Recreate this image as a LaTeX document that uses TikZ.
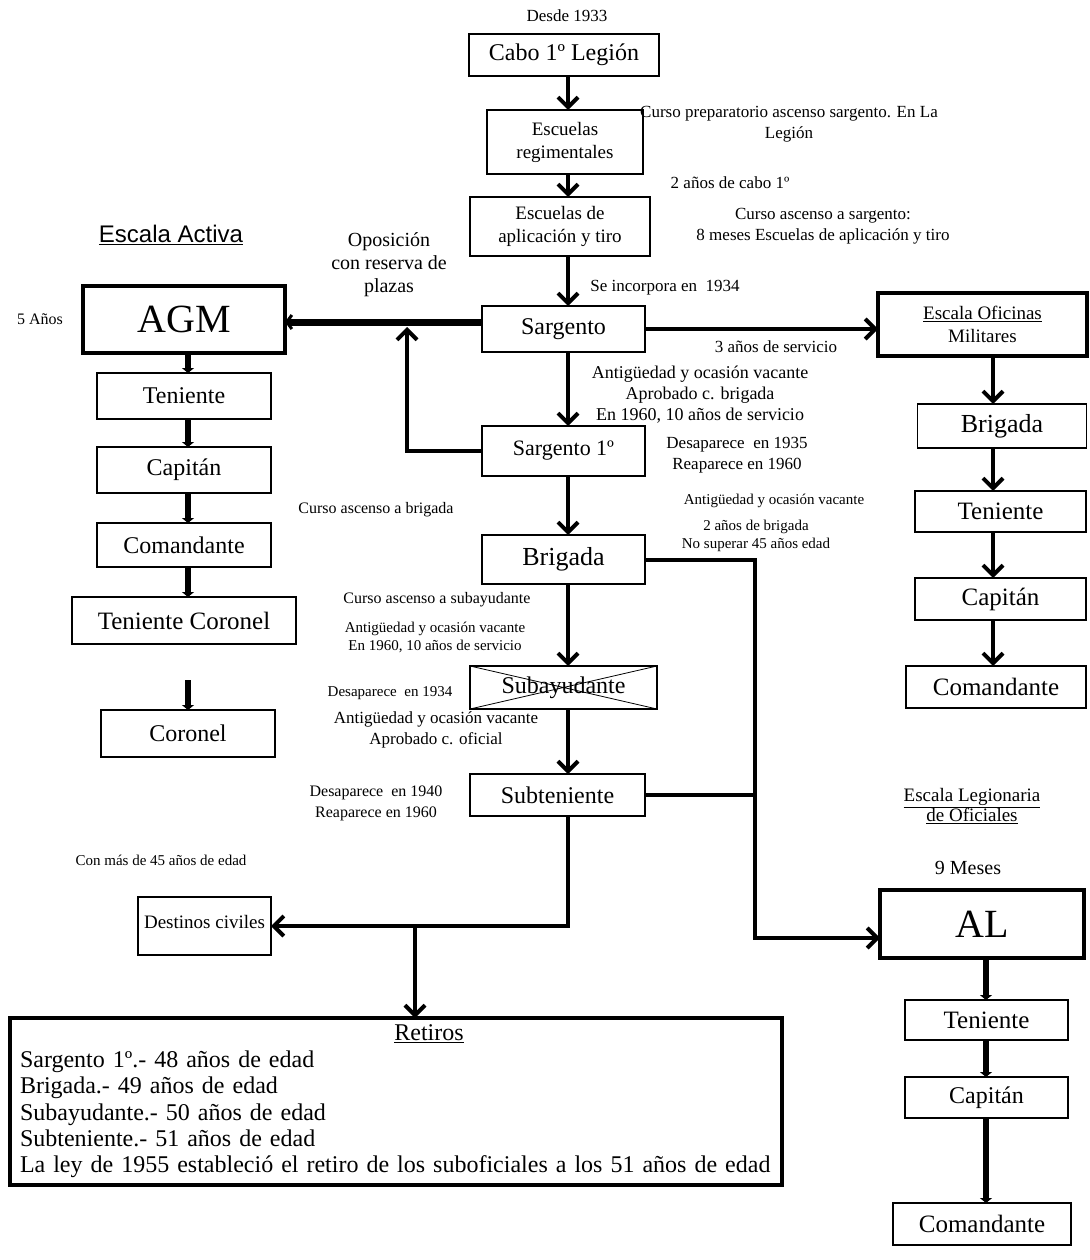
\documentclass[tikz,border=0pt]{standalone}
\usepackage{fontspec}
\setmainfont{Liberation Serif}
\newfontfamily\arialf{Liberation Sans}
\usetikzlibrary{arrows.meta}
\newcommand\fsz[2]{\fontsize{#1}{#2}\selectfont}
\begin{document}
\begin{tikzpicture}[x=1pt,y=-1pt,
  box/.style={draw, line width=1.5pt, inner sep=0pt, outer sep=0pt, align=center, font=\fsz{24}{28}},
  tbox/.style={box, line width=4pt},
  note/.style={align=center, inner sep=0pt, font=\fsz{17}{21}},
  snote/.style={align=center, inner sep=0pt, font=\fsz{15}{18}},
  conn/.style={line width=4pt, -{Straight Barb[length=10pt,width=20pt]}},
  lconn/.style={line width=6pt, -{Triangle[length=5pt,width=12pt]}},
  plain/.style={line width=4pt}]
\useasboundingbox (0,0) rectangle (1089,1260);
% axis coordinates
\coordinate (ax) at (568,0);
\coordinate (lx) at (188,0);
\coordinate (rx) at (993,0);
\coordinate (rx2) at (986,0);
\coordinate (vx) at (755,0);
% middle column
\node[note] (desde) at (567,16) {Desde 1933};
\node[box, minimum width=190pt, minimum height=42pt] (cabo) at (564,55) {Cabo 1º Legión};
\node[box, minimum width=156pt, minimum height=64pt, font=\fsz{19}{23}] (escreg) at (565,142) {Escuelas\\regimentales};
\node[box, minimum width=180pt, minimum height=59pt, font=\fsz{19}{23}] (escapl) at (560,226.5) {Escuelas de\\aplicación y tiro};
\node[box, minimum width=163pt, minimum height=46pt] (sarg) at (563.5,329) {Sargento};
\node[box, minimum width=163pt, minimum height=50pt, font=\fsz{22}{26}] (sarg1) at (563.5,451) {Sargento 1º};
\node[box, minimum width=163pt, minimum height=49pt, font=\fsz{26}{30}] (brig) at (563.5,559.5) {Brigada};
\node[box, minimum width=187pt, minimum height=43pt] (subay) at (563.5,687.5) {Subayudante};
\draw[line width=0.8pt] (subay.north west) -- (subay.south east) (subay.south west) -- (subay.north east);
\node[box, minimum width=175pt, minimum height=42pt] (subt) at (557.5,795) {Subteniente};
% middle notes
\node[note] (cprep) at (789,124) {Curso preparatorio ascenso sargento. En La\\Legión};
\node[note] (dosc) at (730,183) {2 años de cabo 1º};
\node[note] (casc) at (823,226.5) {Curso ascenso a sargento:\\8 meses Escuelas de aplicación y tiro};
\node[note] (incorp) at (665,288) {Se incorpora en\ \ 1934};
\node[note] (tres) at (776,347) {3 años de servicio};
\node[note, font=\fsz{18}{21}] (antig1) at (700,395) {Antigüedad y ocasión vacante\\Aprobado c. brigada\\En 1960, 10 años de servicio};
\node[note] (des35) at (737,455) {Desaparece\ \ en 1935\\Reaparece en 1960};
\node[snote] (antig2) at (774,501) {Antigüedad y ocasión vacante};
\node[snote] (dosb) at (756,536) {2 años de brigada\\No superar 45 años edad};
\node[note, font=\fsz{16}{20}] (cbrig) at (376,510) {Curso ascenso a brigada};
\node[note, font=\fsz{16}{20}] (csub) at (437,600) {Curso ascenso a subayudante};
\node[snote] (antig3) at (435,637) {Antigüedad y ocasión vacante\\En 1960, 10 años de servicio};
\node[snote] (des34) at (390,693) {Desaparece\ \ en 1934};
\node[note] (antig4) at (436,729.5) {Antigüedad y ocasión vacante\\Aprobado c. oficial};
\node[snote, font=\fsz{16}{21}] (des40) at (376,803.5) {Desaparece\ \ en 1940\\Reaparece en 1960};
\node[snote] (mas45) at (161,860) {Con más de 45 años de edad};
% left column
\node[inner sep=0pt, font=\arialf\fsz{24}{28}] (eact) at (171,235) {\underline{Escala Activa}};
\node[note, font=\fsz{20}{23}] (opos) at (389,264.5) {Oposición\\con reserva de\\plazas};
\node[snote, font=\fsz{16}{20}] (cinco) at (40,319) {5 Años};
\node[tbox, minimum width=202pt, minimum height=67pt, font=\fsz{40}{44}] (agm) at (184,319.5) {AGM};
\node[box, minimum width=174pt, minimum height=46pt] (ten) at (184,396) {Teniente};
\node[box, minimum width=174pt, minimum height=46pt] (cap) at (184,470) {Capitán};
\node[box, minimum width=174pt, minimum height=44pt] (com) at (184,545) {Comandante};
\node[box, minimum width=224pt, minimum height=47pt, font=\fsz{25}{29}] (tcor) at (184,620.5) {Teniente Coronel};
\node[box, minimum width=174pt, minimum height=47pt] (cor) at (188,733.5) {Coronel};
\coordinate (corin) at (188,680);
\draw[lconn] (agm.south -| lx) -- (ten.north -| lx);
\draw[lconn] (ten.south -| lx) -- (cap.north -| lx);
\draw[lconn] (cap.south -| lx) -- (com.north -| lx);
\draw[lconn] (com.south -| lx) -- (tcor.north -| lx);
\draw[lconn] (corin) -- (cor.north -| lx);
% right top column
\node[tbox, minimum width=209pt, minimum height=63pt, font=\fsz{19}{23}] (ofi) at (982.5,324.5) {\underline{Escala Oficinas}\\Militares};
\node[box, minimum width=169pt, minimum height=44pt, font=\fsz{26}{30}] (brig2) at (1002,426) {Brigada};
\node[box, minimum width=171pt, minimum height=41pt, font=\fsz{25}{29}] (ten2) at (1000.5,511.5) {Teniente};
\node[box, minimum width=171pt, minimum height=42pt, font=\fsz{25}{29}] (cap2) at (1000.5,599) {Capitán};
\node[box, minimum width=180pt, minimum height=42pt, font=\fsz{25}{29}] (com2) at (996,687) {Comandante};
\draw[conn] (ofi.south -| rx) -- (brig2.north -| rx);
\draw[conn] (brig2.south -| rx) -- (ten2.north -| rx);
\draw[conn] (ten2.south -| rx) -- (cap2.north -| rx);
\draw[conn] (cap2.south -| rx) -- (com2.north -| rx);
% right bottom column
\node[note, font=\fsz{19}{20}] (eleg) at (972,806) {\underline{Escala Legionaria}\\\underline{de Oficiales}};
\node[note, font=\fsz{20}{24}] (nueve) at (968,868) {9 Meses};
\node[tbox, minimum width=204pt, minimum height=68pt, font=\fsz{40}{44}] (al) at (982,924) {AL};
\node[box, minimum width=163pt, minimum height=40pt, font=\fsz{25}{29}] (ten3) at (986.5,1020) {Teniente};
\node[box, minimum width=163pt, minimum height=41pt, font=\fsz{24}{28}] (cap3) at (986.5,1097.5) {Capitán};
\node[box, minimum width=178pt, minimum height=42pt, font=\fsz{25}{29}] (com3) at (982,1224) {Comandante};
\draw[lconn] (al.south -| rx2) -- (ten3.north -| rx2);
\draw[lconn] (ten3.south -| rx2) -- (cap3.north -| rx2);
\draw[lconn] (cap3.south -| rx2) -- (com3.north -| rx2);
% bottom
\node[box, minimum width=133pt, minimum height=58pt, font=\fsz{19}{23}] (dest) at (204.5,926) {\raisebox{8pt}{Destinos civiles}};
\node[tbox, line width=3.5pt, minimum width=772pt, minimum height=167pt, text width=752pt, align=left, font=\fsz{24}{26.4}] (ret) at (396,1101.5) {\makebox[752pt]{\hspace{66pt}\underline{Retiros}}\\Sargento 1º.- 48 años de edad\\Brigada.- 49 años de edad\\Subayudante.- 50 años de edad\\Subteniente.- 51 años de edad\\La ley de 1955 estableció el retiro de los suboficiales a los 51 años de edad};
% middle arrows
\draw[conn] (cabo.south -| ax) -- (escreg.north -| ax);
\draw[conn] (escreg.south -| ax) -- (escapl.north -| ax);
\draw[conn] (escapl.south -| ax) -- (sarg.north -| ax);
\draw[conn] (sarg.south -| ax) -- (sarg1.north -| ax);
\draw[conn] (sarg1.south -| ax) -- (brig.north -| ax);
\draw[conn] (brig.south -| ax) -- (subay.north -| ax);
\draw[conn] (subay.south -| ax) -- (subt.north -| ax);
% cross connectors
\coordinate (yl) at (0,322);
\draw[line width=7pt, -{Straight Barb[length=5pt,width=14pt,line width=3pt]}] (sarg.west |- yl) -- (agm.east |- yl);
\coordinate (upx) at (407,327);
\draw[conn] (sarg1.west) -| (upx);
\draw[conn] (sarg.east) -- (sarg.east -| ofi.west);
\coordinate (aly) at (0,938);
\draw[conn] (brig.east) -- (brig.east -| vx) -- (vx |- aly) -- (al.west |- aly);
\draw[plain] (subt.east) -- (subt.east -| vx);
\coordinate (jy) at (0,926);
\coordinate (jx) at (415,926);
\draw[conn] (subt.south -| ax) -- (ax |- jy) -- (dest.east);
\draw[conn] (jx) -- (jx |- ret.north);
\end{tikzpicture}
\end{document}
